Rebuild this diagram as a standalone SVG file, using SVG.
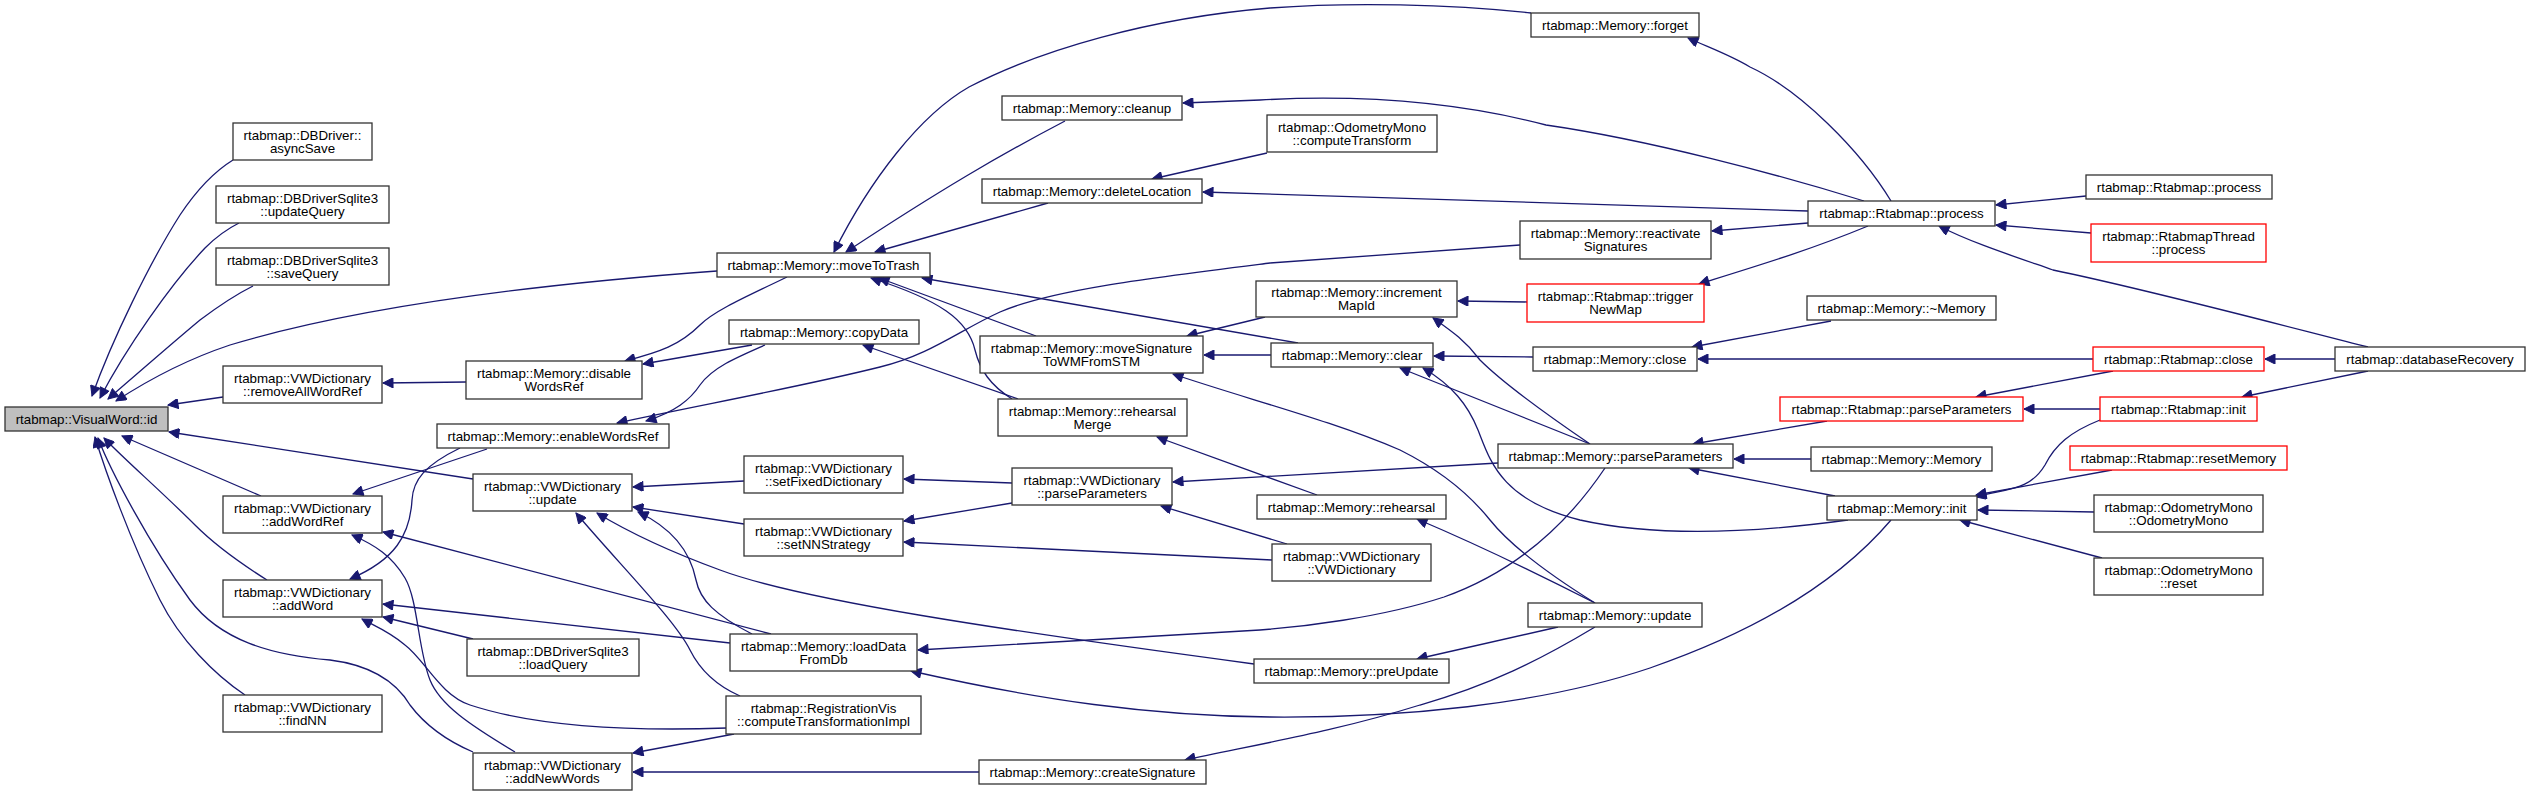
<svg xmlns="http://www.w3.org/2000/svg" width="2530" height="797" viewBox="0 0 2530 797">
<defs>
<style>
.node rect{fill:#ffffff;stroke:#333333;stroke-width:1.3}
.node.red rect{stroke:#ff0000}
.node.cur rect{fill:#bfbfbf}
.node text{font-family:"Liberation Sans",Arial,Helvetica,sans-serif;font-size:13.33px;fill:#000000;text-anchor:middle}
.edges path{fill:none;stroke:#191970;stroke-width:1.3;marker-end:url(#ah)}
</style>
<marker id="ah" viewBox="0 0 10 10" refX="10" refY="5" markerUnits="userSpaceOnUse" markerWidth="13" markerHeight="10" orient="auto">
<path d="M0,0 L10,5 L0,10 z" fill="#191970" stroke="#191970"/>
</marker>
</defs>
<rect width="2530" height="797" fill="#ffffff"/>
<g id="edges" class="edges">
<path d="M233,160 C220,168 200,185 180,215 C150,262 112,340 92,396"/>
<path d="M239,223 C225,230 215,238 205,248 C170,285 125,350 100,398"/>
<path d="M253,286 C235,295 220,305 200,320 C170,345 130,380 108,399"/>
<path d="M717,271 C580,281 380,300 230,345 C185,360 145,382 116,401"/>
<path d="M223,397 L168,405"/>
<path d="M261,496 L122,436"/>
<path d="M267,580 C240,563 215,545 195,525 C160,490 125,460 104,438"/>
<path d="M473,479 L169,432"/>
<path d="M245,695 C215,675 180,640 160,600 C130,540 105,470 95,437"/>
<path d="M473,752 C445,740 425,725 410,705 C395,680 370,665 330,660 C270,655 220,640 190,600 C150,545 110,470 98,438"/>
<path d="M466,382 L383,383"/>
<path d="M787,277 C750,295 715,310 700,325 C680,345 660,352 625,361"/>
<path d="M752,345 L643,364"/>
<path d="M765,345 C735,358 712,368 700,385 C690,400 675,412 646,421"/>
<path d="M1520,245 L1270,263 C1150,278 1050,290 1000,312 C960,330 930,355 880,367 C800,387 700,405 617,423"/>
<path d="M487,449 L353,494"/>
<path d="M460,448 C425,465 413,480 412,500 C410,535 395,560 350,579"/>
<path d="M771,634 L383,532"/>
<path d="M730,643 L383,604"/>
<path d="M473,639 L383,617"/>
<path d="M727,728 C640,731 540,728 470,705 C440,695 425,660 405,645 C390,632 375,626 362,619"/>
<path d="M515,752 C470,725 440,705 430,680 C418,650 418,600 405,578 C392,556 375,545 352,535"/>
<path d="M744,481 L633,487"/>
<path d="M744,524 L633,507"/>
<path d="M752,634 C715,615 700,600 696,580 C690,550 672,528 638,512"/>
<path d="M740,696 C715,685 700,670 690,650 C675,620 620,565 576,513"/>
<path d="M1254,664 C1000,630 800,600 720,570 C660,548 625,530 597,513"/>
<path d="M1012,483 L904,479"/>
<path d="M1012,503 L904,521"/>
<path d="M1272,560 L904,542"/>
<path d="M1498,463 L1173,482"/>
<path d="M1287,544 L1161,506"/>
<path d="M734,734 L633,753"/>
<path d="M979,772 L633,772"/>
<path d="M1531,13 C1450,4 1350,2 1270,8 C1150,18 1040,50 969,87 C920,115 870,180 834,252"/>
<path d="M1065,121 C1000,155 940,190 846,252"/>
<path d="M1048,203 L875,252"/>
<path d="M1012,399 C990,385 980,370 975,350 C968,320 940,300 871,278"/>
<path d="M1036,336 L879,278"/>
<path d="M1298,343 L922,278"/>
<path d="M1018,399 L863,345"/>
<path d="M1317,495 L1157,437"/>
<path d="M1864,201 C1780,175 1650,140 1546,125 C1450,100 1350,95 1260,100 L1183,103"/>
<path d="M1808,211 L1203,192"/>
<path d="M1267,153 L1152,179"/>
<path d="M1265,317 L1187,336"/>
<path d="M1271,355 L1204,355"/>
<path d="M1595,603 C1550,575 1510,545 1490,520 C1470,495 1440,470 1400,450 C1330,420 1250,400 1173,374"/>
<path d="M1527,302 L1458,301"/>
<path d="M1590,444 C1540,410 1500,380 1480,360 C1465,340 1450,330 1433,318"/>
<path d="M1590,444 L1400,368"/>
<path d="M1848,520 C1760,532 1660,538 1580,520 C1500,500 1490,460 1478,430 C1468,405 1452,385 1423,368"/>
<path d="M1533,357 L1434,356"/>
<path d="M1808,223 L1712,231"/>
<path d="M1868,226 C1810,250 1760,265 1699,284"/>
<path d="M1891,201 C1860,150 1800,90 1750,67 C1730,55 1710,48 1688,38"/>
<path d="M1831,321 L1692,347"/>
<path d="M2093,359 L1698,359"/>
<path d="M2086,196 L1996,205"/>
<path d="M2091,233 L1996,225"/>
<path d="M2368,347 C2300,330 2150,290 2053,270 C2010,255 1970,242 1939,226"/>
<path d="M2335,359 L2265,359"/>
<path d="M2113,371 L1976,397"/>
<path d="M2368,371 L2242,397"/>
<path d="M1827,421 L1693,444"/>
<path d="M1811,459 L1734,459"/>
<path d="M1835,496 L1689,468"/>
<path d="M2100,409 L2024,409"/>
<path d="M2100,420 C2070,432 2055,445 2045,465 C2030,490 2010,488 1976,497"/>
<path d="M2112,470 L1976,495"/>
<path d="M2094,512 L1978,510"/>
<path d="M2102,558 L1960,520"/>
<path d="M1605,468 C1570,520 1520,570 1444,597 C1380,618 1300,627 1260,630 L918,650"/>
<path d="M1891,520 C1840,580 1760,630 1650,668 C1540,705 1400,718 1270,717 C1150,716 1040,700 911,671"/>
<path d="M1558,627 L1417,659"/>
<path d="M1595,627 C1540,660 1490,685 1420,705 C1340,730 1270,742 1185,760"/>
<path d="M1595,603 C1550,580 1490,550 1417,519"/>
</g>
<g id="n_id" class="node cur"><rect x="5" y="407" width="163" height="24"/><text x="86.5" y="423.5">rtabmap::VisualWord::id</text></g>
<g id="n_asyncSave" class="node"><rect x="233" y="123" width="139" height="37"/><text x="302.5" y="139.5">rtabmap::DBDriver::</text><text x="302.5" y="152.5">asyncSave</text></g>
<g id="n_updateQuery" class="node"><rect x="216" y="186" width="173" height="37"/><text x="302.5" y="202.5">rtabmap::DBDriverSqlite3</text><text x="302.5" y="215.5">::updateQuery</text></g>
<g id="n_saveQuery" class="node"><rect x="216" y="248" width="173" height="37"/><text x="302.5" y="264.5">rtabmap::DBDriverSqlite3</text><text x="302.5" y="277.5">::saveQuery</text></g>
<g id="n_removeAllWordRef" class="node"><rect x="223" y="366" width="159" height="37"/><text x="302.5" y="382.5">rtabmap::VWDictionary</text><text x="302.5" y="395.5">::removeAllWordRef</text></g>
<g id="n_addWordRef" class="node"><rect x="223" y="496" width="159" height="37"/><text x="302.5" y="512.5">rtabmap::VWDictionary</text><text x="302.5" y="525.5">::addWordRef</text></g>
<g id="n_addWord" class="node"><rect x="223" y="580" width="159" height="37"/><text x="302.5" y="596.5">rtabmap::VWDictionary</text><text x="302.5" y="609.5">::addWord</text></g>
<g id="n_findNN" class="node"><rect x="223" y="695" width="159" height="37"/><text x="302.5" y="711.5">rtabmap::VWDictionary</text><text x="302.5" y="724.5">::findNN</text></g>
<g id="n_disableWordsRef" class="node"><rect x="466" y="361" width="176" height="38"/><text x="554" y="378">rtabmap::Memory::disable</text><text x="554" y="391">WordsRef</text></g>
<g id="n_enableWordsRef" class="node"><rect x="437" y="424" width="232" height="24"/><text x="553" y="440.5">rtabmap::Memory::enableWordsRef</text></g>
<g id="n_vwdUpdate" class="node"><rect x="473" y="474" width="159" height="37"/><text x="552.5" y="490.5">rtabmap::VWDictionary</text><text x="552.5" y="503.5">::update</text></g>
<g id="n_loadQuery" class="node"><rect x="467" y="639" width="172" height="37"/><text x="553" y="655.5">rtabmap::DBDriverSqlite3</text><text x="553" y="668.5">::loadQuery</text></g>
<g id="n_addNewWords" class="node"><rect x="473" y="753" width="159" height="37"/><text x="552.5" y="769.5">rtabmap::VWDictionary</text><text x="552.5" y="782.5">::addNewWords</text></g>
<g id="n_moveToTrash" class="node"><rect x="717" y="253" width="213" height="24"/><text x="823.5" y="269.5">rtabmap::Memory::moveToTrash</text></g>
<g id="n_copyData" class="node"><rect x="729" y="320" width="190" height="24"/><text x="824" y="336.5">rtabmap::Memory::copyData</text></g>
<g id="n_setFixedDictionary" class="node"><rect x="744" y="456" width="159" height="37"/><text x="823.5" y="472.5">rtabmap::VWDictionary</text><text x="823.5" y="485.5">::setFixedDictionary</text></g>
<g id="n_setNNStrategy" class="node"><rect x="744" y="519" width="159" height="37"/><text x="823.5" y="535.5">rtabmap::VWDictionary</text><text x="823.5" y="548.5">::setNNStrategy</text></g>
<g id="n_loadDataFromDb" class="node"><rect x="730" y="634" width="187" height="37"/><text x="823.5" y="650.5">rtabmap::Memory::loadData</text><text x="823.5" y="663.5">FromDb</text></g>
<g id="n_registrationVis" class="node"><rect x="726" y="696" width="195" height="38"/><text x="823.5" y="713">rtabmap::RegistrationVis</text><text x="823.5" y="726">::computeTransformationImpl</text></g>
<g id="n_cleanup" class="node"><rect x="1002" y="96" width="180" height="24"/><text x="1092" y="112.5">rtabmap::Memory::cleanup</text></g>
<g id="n_deleteLocation" class="node"><rect x="982" y="179" width="220" height="24"/><text x="1092" y="195.5">rtabmap::Memory::deleteLocation</text></g>
<g id="n_moveSignature" class="node"><rect x="980" y="336" width="223" height="37"/><text x="1091.5" y="352.5">rtabmap::Memory::moveSignature</text><text x="1091.5" y="365.5">ToWMFromSTM</text></g>
<g id="n_rehearsalMerge" class="node"><rect x="998" y="399" width="189" height="37"/><text x="1092.5" y="415.5">rtabmap::Memory::rehearsal</text><text x="1092.5" y="428.5">Merge</text></g>
<g id="n_vwdParseParameters" class="node"><rect x="1012" y="468" width="160" height="37"/><text x="1092" y="484.5">rtabmap::VWDictionary</text><text x="1092" y="497.5">::parseParameters</text></g>
<g id="n_createSignature" class="node"><rect x="979" y="760" width="227" height="24"/><text x="1092.5" y="776.5">rtabmap::Memory::createSignature</text></g>
<g id="n_computeTransform" class="node"><rect x="1267" y="115" width="170" height="37"/><text x="1352" y="131.5">rtabmap::OdometryMono</text><text x="1352" y="144.5">::computeTransform</text></g>
<g id="n_incrementMapId" class="node"><rect x="1256" y="281" width="201" height="36"/><text x="1356.5" y="297">rtabmap::Memory::increment</text><text x="1356.5" y="310">MapId</text></g>
<g id="n_clear" class="node"><rect x="1271" y="343" width="162" height="24"/><text x="1352" y="359.5">rtabmap::Memory::clear</text></g>
<g id="n_rehearsal" class="node"><rect x="1257" y="495" width="189" height="24"/><text x="1351.5" y="511.5">rtabmap::Memory::rehearsal</text></g>
<g id="n_vwdVWDictionary" class="node"><rect x="1272" y="544" width="159" height="37"/><text x="1351.5" y="560.5">rtabmap::VWDictionary</text><text x="1351.5" y="573.5">::VWDictionary</text></g>
<g id="n_preUpdate" class="node"><rect x="1254" y="659" width="195" height="24"/><text x="1351.5" y="675.5">rtabmap::Memory::preUpdate</text></g>
<g id="n_forget" class="node"><rect x="1531" y="13" width="168" height="24"/><text x="1615" y="29.5">rtabmap::Memory::forget</text></g>
<g id="n_reactivateSignatures" class="node"><rect x="1520" y="221" width="191" height="38"/><text x="1615.5" y="238">rtabmap::Memory::reactivate</text><text x="1615.5" y="251">Signatures</text></g>
<g id="n_triggerNewMap" class="node red"><rect x="1527" y="284" width="177" height="38"/><text x="1615.5" y="301">rtabmap::Rtabmap::trigger</text><text x="1615.5" y="314">NewMap</text></g>
<g id="n_memClose" class="node"><rect x="1533" y="347" width="164" height="24"/><text x="1615" y="363.5">rtabmap::Memory::close</text></g>
<g id="n_memParseParameters" class="node"><rect x="1498" y="444" width="235" height="24"/><text x="1615.5" y="460.5">rtabmap::Memory::parseParameters</text></g>
<g id="n_memUpdate" class="node"><rect x="1528" y="603" width="174" height="24"/><text x="1615" y="619.5">rtabmap::Memory::update</text></g>
<g id="n_rtabProcess" class="node"><rect x="1808" y="201" width="187" height="25"/><text x="1901.5" y="218">rtabmap::Rtabmap::process</text></g>
<g id="n_memDtor" class="node"><rect x="1807" y="296" width="189" height="24"/><text x="1901.5" y="312.5">rtabmap::Memory::~Memory</text></g>
<g id="n_rtabParseParameters" class="node red"><rect x="1780" y="397" width="243" height="24"/><text x="1901.5" y="413.5">rtabmap::Rtabmap::parseParameters</text></g>
<g id="n_memCtor" class="node"><rect x="1811" y="447" width="181" height="24"/><text x="1901.5" y="463.5">rtabmap::Memory::Memory</text></g>
<g id="n_memInit" class="node"><rect x="1827" y="496" width="150" height="24"/><text x="1902" y="512.5">rtabmap::Memory::init</text></g>
<g id="n_rtabProcess2" class="node"><rect x="2086" y="175" width="186" height="24"/><text x="2179" y="191.5">rtabmap::Rtabmap::process</text></g>
<g id="n_threadProcess" class="node red"><rect x="2091" y="224" width="175" height="38"/><text x="2178.5" y="241">rtabmap::RtabmapThread</text><text x="2178.5" y="254">::process</text></g>
<g id="n_rtabClose" class="node red"><rect x="2093" y="347" width="171" height="24"/><text x="2178.5" y="363.5">rtabmap::Rtabmap::close</text></g>
<g id="n_rtabInit" class="node red"><rect x="2100" y="397" width="157" height="24"/><text x="2178.5" y="413.5">rtabmap::Rtabmap::init</text></g>
<g id="n_resetMemory" class="node red"><rect x="2070" y="446" width="217" height="24"/><text x="2178.5" y="462.5">rtabmap::Rtabmap::resetMemory</text></g>
<g id="n_odomCtor" class="node"><rect x="2094" y="495" width="169" height="37"/><text x="2178.5" y="511.5">rtabmap::OdometryMono</text><text x="2178.5" y="524.5">::OdometryMono</text></g>
<g id="n_odomReset" class="node"><rect x="2094" y="558" width="169" height="37"/><text x="2178.5" y="574.5">rtabmap::OdometryMono</text><text x="2178.5" y="587.5">::reset</text></g>
<g id="n_databaseRecovery" class="node"><rect x="2335" y="347" width="190" height="24"/><text x="2430" y="363.5">rtabmap::databaseRecovery</text></g>
</svg>
